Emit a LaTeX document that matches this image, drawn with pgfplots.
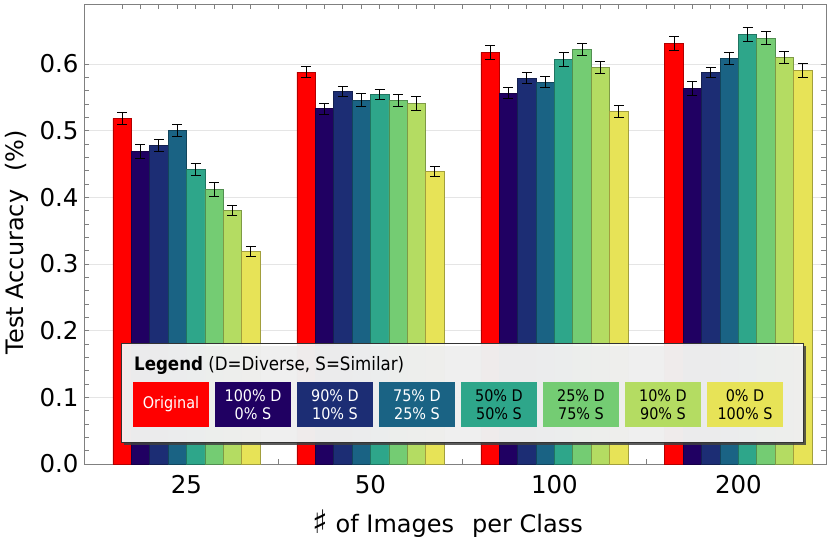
\documentclass[border=0pt]{standalone}
\usepackage{pgfplots}
\pgfplotsset{compat=1.18}
\usepackage{fontspec}
\setmainfont{DejaVu Sans}
\newfontfamily\condfont{DejaVu Sans Condensed}
\definecolor{cO}{RGB}{255,0,0}
\definecolor{cA}{RGB}{32,0,98}
\definecolor{cB}{RGB}{28,45,116}
\definecolor{cC}{RGB}{26,99,132}
\definecolor{cD}{RGB}{46,166,138}
\definecolor{cE}{RGB}{116,204,115}
\definecolor{cF}{RGB}{180,220,98}
\definecolor{cG}{RGB}{231,227,87}
\pgfplotsset{
  mybar/.style={ybar, bar width=1, bar shift=0pt, fill=#1, draw=#1!70!black, line width=0.7pt,
    error bars/.cd, y dir=both, y explicit,
    error bar style={black, line width=1pt},
    error mark options={rotate=90, mark size=5pt, black, line width=1pt}},
}
\begin{document}
\begin{tikzpicture}[x=1pt,y=1pt]
\useasboundingbox (0,0) rectangle (831,542);
\begin{axis}[
  at={(84pt,78pt)}, anchor=south west,
  scale only axis, width=742pt, height=460pt,
  xmin=-2.07, xmax=38.26, ymin=0, ymax=0.69,
  axis line style={gray, line width=0.9pt},
  xtick={3.5,13.5,23.5,33.5},
  xticklabels={25,50,100,200},
  minor xtick={0,1,2,3,4,5,6,7,8.5,10,11,12,13,14,15,16,17,18.5,20,21,22,23,24,25,26,27,28.5,30,31,32,33,34,35,36,37},
  ytick={0,0.1,0.2,0.3,0.4,0.5,0.6},
  yticklabels={0.0,0.1,0.2,0.3,0.4,0.5,0.6},
  minor y tick num=4,
  tick align=inside,
  major tick length=5pt, minor tick length=5pt,
  major x tick style={draw=none},
  minor x tick style={gray, line width=0.8pt},
  y tick style={gray, line width=0.8pt},
  ymajorgrids, major grid style={gray!20, line width=0.8pt},
  ticklabel style={font=\fontsize{24.5}{28}\selectfont},
  xticklabel style={yshift=-8pt},
  yticklabel style={xshift=-2pt},
  xlabel={\raisebox{-0.05em}{\scalebox{1.35}{♯}} of Images\hspace{0.75em}per Class},
  ylabel={Test Accuracy\hspace{0.75em}(\%)},
  label style={font=\fontsize{24}{28}\selectfont},
  xlabel style={at={(axis description cs:0.49,-0.13)}, anchor=center},
  ylabel style={at={(axis description cs:-0.0903,0.482)}, anchor=center},
]
\addplot[mybar=cO] coordinates {(0,0.5185) +- (0,0.0095) (10,0.588) +- (0,0.008) (20,0.6175) +- (0,0.011) (30,0.631) +- (0,0.011)};
\addplot[mybar=cA] coordinates {(1,0.469) +- (0,0.01) (11,0.533) +- (0,0.0085) (21,0.5565) +- (0,0.008) (31,0.564) +- (0,0.0105)};
\addplot[mybar=cB] coordinates {(2,0.4775) +- (0,0.009) (12,0.559) +- (0,0.007) (22,0.579) +- (0,0.0085) (32,0.5875) +- (0,0.007)};
\addplot[mybar=cC] coordinates {(3,0.500) +- (0,0.009) (13,0.546) +- (0,0.0095) (23,0.573) +- (0,0.008) (33,0.6085) +- (0,0.009)};
\addplot[mybar=cD] coordinates {(4,0.4425) +- (0,0.009) (14,0.5545) +- (0,0.007) (24,0.607) +- (0,0.01) (34,0.6445) +- (0,0.01)};
\addplot[mybar=cE] coordinates {(5,0.4125) +- (0,0.0105) (15,0.5455) +- (0,0.0085) (25,0.622) +- (0,0.009) (35,0.639) +- (0,0.0095)};
\addplot[mybar=cF] coordinates {(6,0.3805) +- (0,0.007) (16,0.541) +- (0,0.01) (26,0.595) +- (0,0.0095) (36,0.610) +- (0,0.0095)};
\addplot[mybar=cG] coordinates {(7,0.3185) +- (0,0.0075) (17,0.4385) +- (0,0.0075) (27,0.529) +- (0,0.009) (37,0.5905) +- (0,0.0105)};
\end{axis}
% legend
\fill[black!75, opacity=0.85] (124,97) rectangle (806,196);
\draw[fill=white, fill opacity=0.9, draw=black!80, line width=1pt] (121,100) rectangle (803,199);
\node[anchor=base west, inner sep=0pt] at (134,172) {\condfont\fontsize{18.5}{21}\selectfont\textbf{Legend} (D=Diverse, S=Similar)};
\foreach \i/\c/\t/\tc in {0/cO/{Original}/white, 1/cA/{100\% D\\0\% S}/white, 2/cB/{90\% D\\10\% S}/white, 3/cC/{75\% D\\25\% S}/white, 4/cD/{50\% D\\50\% S}/black, 5/cE/{25\% D\\75\% S}/black, 6/cF/{10\% D\\90\% S}/black, 7/cG/{0\% D\\100\% S}/black}{
  \fill[\c] ({133+82*\i},115) rectangle ({209+82*\i},160);
  \node[align=center, text=\tc, inner sep=0pt, font=\condfont\fontsize{16}{17.5}\selectfont] at ({171+82*\i},137.5) {\t};
}
\end{tikzpicture}
\end{document}
